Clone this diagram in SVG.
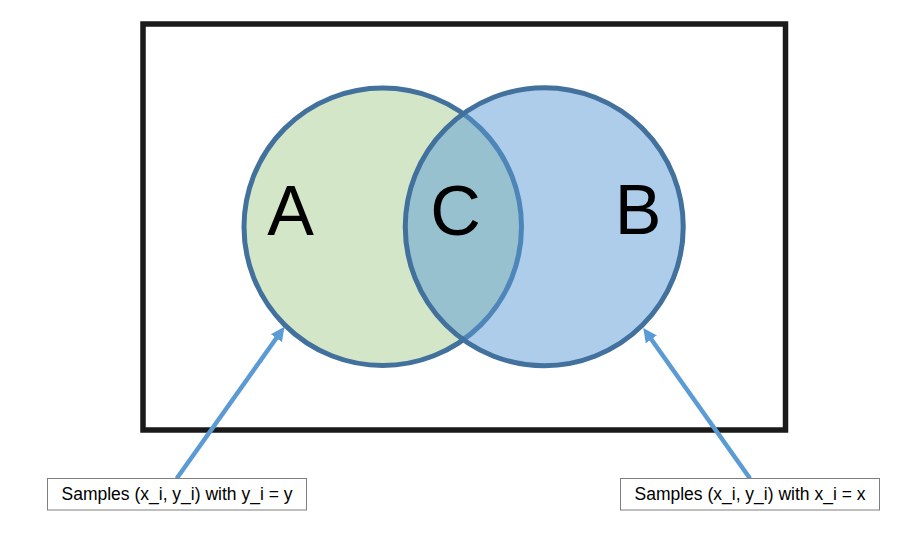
<svg xmlns="http://www.w3.org/2000/svg" width="901" height="534" viewBox="0 0 901 534">
  <style>
    .frame { fill: #ffffff; stroke: #1a1a1a; stroke-width: 5.5; }
    .set { stroke: #41719C; stroke-width: 5; }
    .setA { fill: #D4E6C8; }
    .setB { fill: #5B9BD5; fill-opacity: 0.5; }
    .big { font-family: "Liberation Sans", Arial, sans-serif; font-size: 70px; fill: #000000; text-anchor: middle; }
    .box { fill: #ffffff; stroke: #7F7F7F; stroke-width: 1; }
    .lbl { font-family: "Liberation Sans", Arial, sans-serif; font-size: 17.5px; fill: #000000; text-anchor: middle; }
    .conn { fill: none; stroke: #5B9BD5; stroke-width: 4.5; marker-end: url(#head); }
  </style>
  <defs>
    <marker id="head" markerUnits="userSpaceOnUse" markerWidth="16" markerHeight="16" viewBox="0 -8 16 16" refX="2" refY="0" orient="auto">
      <path d="M0,-6.8 L14,0 L0,6.8 z" fill="#5B9BD5"/>
    </marker>
  </defs>
  <rect width="901" height="534" fill="#ffffff"/>
  <g id="universe">
    <rect class="frame" x="143" y="24" width="642.5" height="406"/>
  </g>
  <g id="setA">
    <circle class="set setA" cx="382.75" cy="226.75" r="138.75"/>
  </g>
  <g id="setB">
    <circle class="set setB" cx="544.25" cy="226.75" r="139"/>
  </g>
  <g id="region-labels">
    <text class="big" x="290.5" y="235">A</text>
    <text class="big" x="455.5" y="235">C</text>
    <text class="big" x="638" y="234">B</text>
  </g>
  <g id="connectors">
    <path class="conn" d="M176.7,478.5 L277.55,336.5"/>
    <path class="conn" d="M750,478.5 L650.2,337.8"/>
  </g>
  <g id="label-y">
    <rect class="box" x="47.5" y="478.5" width="259" height="31.5"/>
    <text class="lbl" x="177" y="500">Samples (x_i, y_i) with y_i = y</text>
  </g>
  <g id="label-x">
    <rect class="box" x="620.5" y="478.5" width="259" height="31.5"/>
    <text class="lbl" x="750" y="500">Samples (x_i, y_i) with x_i = x</text>
  </g>
</svg>
